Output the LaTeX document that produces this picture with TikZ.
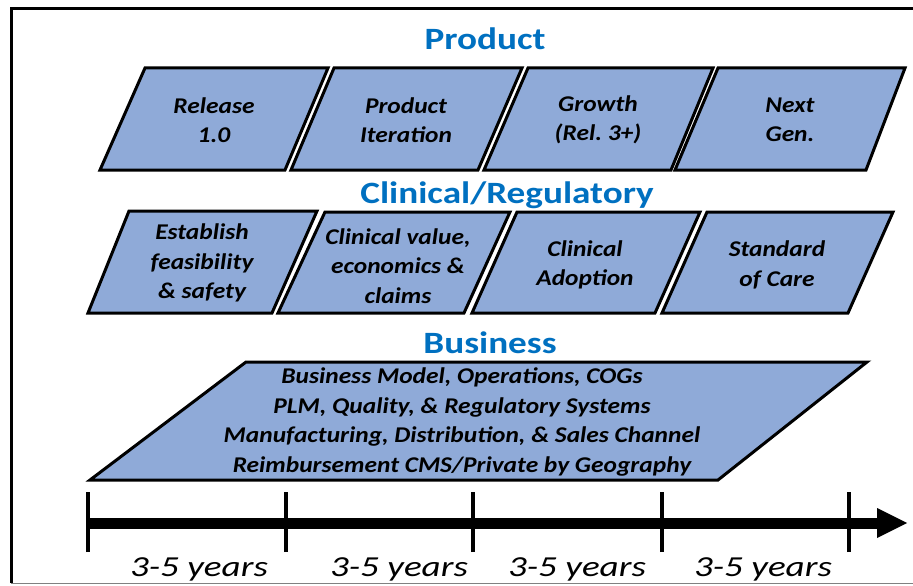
\documentclass[tikz,border=0pt]{standalone}
\usepackage{fontspec}
\setmainfont{Carlito}
\newfontfamily\boxfont[FakeStretch=1.13]{Carlito}
\newfontfamily\titlefont[FakeStretch=1.2]{Carlito}
\newfontfamily\yearfont[FakeStretch=1.28]{Carlito}
\definecolor{boxfill}{HTML}{8FAAD8}
\definecolor{titleblue}{HTML}{0070C0}
\frenchspacing
\begin{document}
\begin{tikzpicture}[x=1pt,y=-1pt,
  pgram/.style={draw=black,line width=3pt,line join=miter,fill=boxfill},
  boxtext/.style={align=center,font=\boxfont\fontsize{22.5}{29.5}\selectfont\bfseries\itshape,inner sep=0pt},
  titletext/.style={font=\titlefont\fontsize{31}{36}\selectfont\bfseries,text=titleblue,inner sep=0pt,anchor=base},
  yeartext/.style={font=\yearfont\fontsize{29}{32}\selectfont\itshape,inner sep=0pt,anchor=base},
  tick/.style={line width=4pt},
  ]
\useasboundingbox (0,0) rectangle (913,586);
% frame
\draw[line width=3pt] (913,8.5) -- (11,8.5) -- (11,583);
\draw[line width=1pt,gray] (11,583.5) -- (913,583.5);
% titles
\node[titletext] (tprod) at (485,49) {Product};
\node[titletext] (tclin) at (507,203) {Clinical/Regulatory};
\node[titletext] (tbus) at (490,353) {Business};
% product row
\draw[pgram] (145,68) -- (328,68) -- (285,170) -- (100,170) -- cycle;
\draw[pgram] (334,68) -- (522,68) -- (478,170) -- (291,170) -- cycle;
\draw[pgram] (528,68) -- (713,68) -- (671,170) -- (484,170) -- cycle;
\draw[pgram] (718,68) -- (905,68) -- (866,170) -- (675,170) -- cycle;
\node[boxtext] (p1) at (214,120) {Release\\1.0};
\node[boxtext] (p2) at (406,120) {Product\\Iteration};
\node[boxtext] (p3) at (598,120) {Growth\\(Rel. 3+)};
\node[boxtext] (p4) at (790,120) {Next\\Gen.};
% clinical row
\draw[pgram] (129,211) -- (317,211) -- (272,313) -- (88,313) -- cycle;
\draw[pgram] (325,212) -- (510,212) -- (464,313) -- (278,313) -- cycle;
\draw[pgram] (517,212) -- (700,212) -- (655,313) -- (472,313) -- cycle;
\draw[pgram] (707,212) -- (893,212) -- (848,313) -- (662,313) -- cycle;
\node[boxtext] (c1) at (202,263) {Establish\\feasibility\\\&\ safety};
\node[boxtext] (c2) at (398,266) {Clinical value,\\economics \&\\claims};
\node[boxtext] (c3) at (585,265) {Clinical\\Adoption};
\node[boxtext] (c4) at (777,265) {Standard\\of Care};
% business
\draw[pgram] (246,362) -- (867,362) -- (718,480) -- (90,480) -- cycle;
\node[boxtext] (b1) at (462,422) {Business Model, Operations, COGs\\PLM, Quality, \& Regulatory Systems\\Manufacturing, Distribution, \& Sales Channel\\Reimbursement CMS/Private by Geography};
% timeline
\coordinate (t0) at (88,523);
\coordinate (t1) at (286,523);
\coordinate (t2) at (473,523);
\coordinate (t3) at (662,523);
\coordinate (t4) at (849,523);
\coordinate (tend) at (880,523);
\coordinate (tip) at (907,523);
\draw[line width=11pt] (t0) -- (tend);
\fill (tip) -- ++(-30,-15) -- ++(0,30) -- cycle;
\foreach \t in {t0,t1,t2,t3,t4}
  \draw[tick] ([yshift=-29pt]\t) -- ([yshift=31pt]\t);
\node[yeartext] (y1) at (199,576) {3-5 years};
\node[yeartext] (y2) at (399,576) {3-5 years};
\node[yeartext] (y3) at (577,576) {3-5 years};
\node[yeartext] (y4) at (763,576) {3-5 years};
\end{tikzpicture}
\end{document}
